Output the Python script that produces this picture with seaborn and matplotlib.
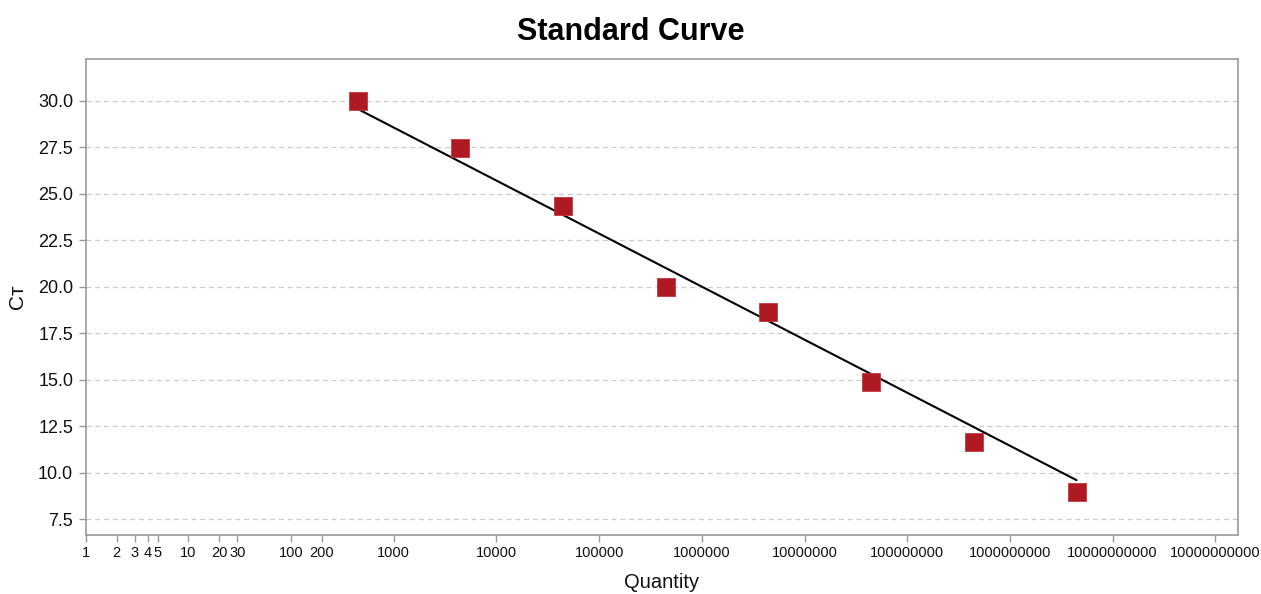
import numpy as np
import pandas as pd
import matplotlib
matplotlib.use('Agg')
import matplotlib.pyplot as plt
import seaborn as sns

# standard curve data
quantity = [445, 4450, 44500, 445000, 4450000, 44500000, 445000000, 4450000000]
ct = [30.0, 27.49, 24.35, 20.0, 18.63, 14.9, 11.63, 8.97]

# fitted line: Ct = intercept + slope * log10(quantity)
fit_slope = -2.854
fit_intercept = 37.13

xtick_values = [1, 2, 3, 4, 5, 10, 20, 30, 100, 200, 1000, 10000, 100000, 1000000,
                10000000, 100000000, 1000000000, 10000000000, 100000000000]
xtick_labels = ['1', '2', '3', '4', '5', '10', '20', '30', '100', '200', '1000', '10000',
                '100000', '1000000', '10000000', '100000000', '1000000000',
                '10000000000', '10000000000']
ytick_values = [7.5, 10.0, 12.5, 15.0, 17.5, 20.0, 22.5, 25.0, 27.5, 30.0]

sns.set_style('white')
plt.rcParams['font.family'] = ['Liberation Sans', 'DejaVu Sans']

df = pd.DataFrame({'Quantity': quantity, 'Ct': ct})
line_x = [quantity[0], quantity[-1]]
fit_df = pd.DataFrame({'Quantity': line_x,
                       'Ct': [fit_intercept + fit_slope * np.log10(q) for q in line_x]})

fig = plt.figure(figsize=(12.61, 5.94), dpi=100)
ax = fig.add_axes([0.068, 0.0993, 0.914, 0.8014])

sns.lineplot(data=fit_df, x='Quantity', y='Ct', color='black', linewidth=1.5, ax=ax, zorder=2)
sns.scatterplot(data=df, x='Quantity', y='Ct', marker='s', s=150, color='#AF1A22',
                edgecolor='#C23A40', linewidth=0.6, ax=ax, zorder=3)

ax.set_xscale('log')
ax.set_xlim(1, 10 ** 11.224)
ax.set_ylim(6.64, 32.26)
ax.set_xticks(xtick_values)
ax.set_xticklabels(xtick_labels)
ax.minorticks_off()
ax.set_yticks(ytick_values)
ax.set_yticklabels([f'{v:.1f}' for v in ytick_values])

ax.yaxis.grid(True, linestyle=(0, (4, 3)), color='#cccccc', linewidth=0.9)
ax.xaxis.grid(False)
for s in ax.spines.values():
    s.set_color('#999999')
    s.set_linewidth(1.2)
ax.tick_params(axis='both', length=5, width=1, color='#999999',
               labelcolor='#111111', direction='out')
ax.tick_params(axis='x', bottom=True, labelsize=10.5, pad=3)
ax.tick_params(axis='y', left=True, labelsize=13, pad=4)

ax.set_xlabel('Quantity', fontsize=14.5, color='#111111', labelpad=9)
ax.set_ylabel('Cᴛ', fontsize=15, color='#111111', labelpad=8)
fig.suptitle('Standard Curve', fontsize=22, fontweight='bold', color='black', y=0.971)

fig.savefig('out.png', dpi=100)
